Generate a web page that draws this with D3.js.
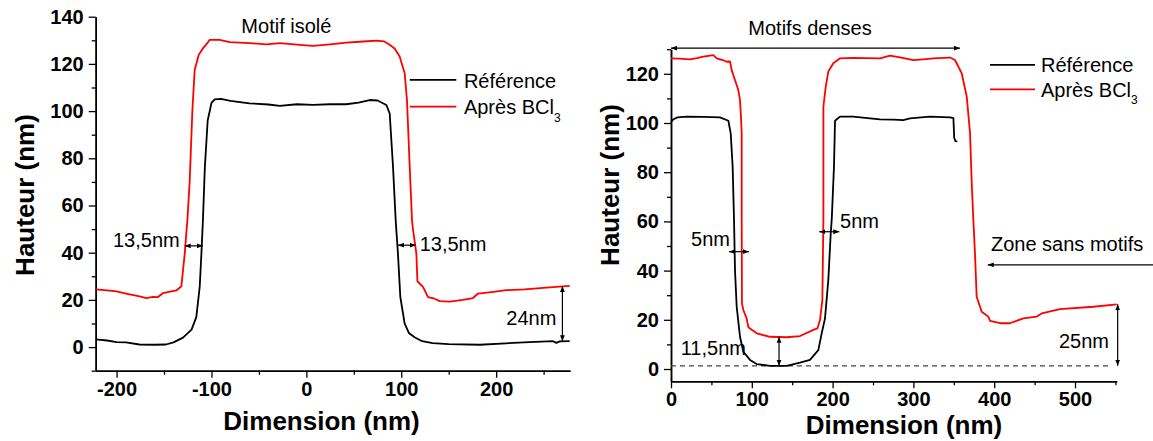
<!DOCTYPE html>
<html><head><meta charset="utf-8">
<script src="https://cdn.jsdelivr.net/npm/d3@7"></script>
<style>
html,body{margin:0;padding:0;background:#fff;}
svg{display:block;font-family:"Liberation Sans",Arial,sans-serif;}
</style>
</head><body>
<svg id="chart" width="1153" height="441"></svg>
<script>
// ---------- DATA ----------
// Left panel: "Motif isolé"
const leftXTicks = [-200, -100, 0, 100, 200];
const leftXMinor = [-150, -50, 50, 150, 250];
const leftYTicks = [0, 20, 40, 60, 80, 100, 120, 140];
const leftYMinor = [-10, 10, 30, 50, 70, 90, 110, 130];
const leftXDomain = [-222, 277.8];
const leftYDomain = [-10, 140];

const leftRefX = [-222,-210,-200,-190,-176,-160,-148,-140,-130,-121,-116,-112.4,-110.6,-109,-107,-104,-100,-96.6,-90,-80,-60,-40,-28,-10,7,25,42,55,66.7,75,84.3,87.8,91.3,94.1,96.5,99,103.6,108,114,122,133,150,182.6,210,235,260,263.4,267,277.5];
const leftRefY = [3.3,2.8,2.1,2.0,1.1,1.0,1.1,2.0,4,7.4,12.7,25.5,39.6,53.8,76,96,103.5,105,105.2,104.3,103.3,102.8,102.2,102.9,102.6,102.9,102.9,103.6,104.7,104.5,102.6,99,76.4,53.8,39.6,21.2,9.9,6,4.2,2.5,1.7,1.3,1.0,1.6,2.1,2.5,1.8,2.4,2.5];

const leftBclX = [-222,-210,-200,-190,-175.7,-168.6,-162,-156.4,-151,-145,-137,-131.7,-128.2,-125.4,-123,-120.1,-117.7,-113.5,-109,-104,-101.9,-91.4,-80.8,-59.7,-42.1,-28,-7,7,25,42.1,60,73.8,82,87.8,93,98.3,103.6,106,108.9,111.3,112.3,115.9,117,122.9,128.2,135.2,140.5,151,165,175.6,180.9,195,210.7,230,252.9,277.5];
const leftBclY = [24.5,24,23.6,22.7,21.5,20.8,21.3,21.2,22.9,23.4,24,25.8,39.6,53.8,70,100.5,117.4,123.8,126.6,129,130.2,130.2,129.2,128.8,128.3,128.8,128.1,127.6,128.3,129,129.5,129.9,129.5,128.1,126.5,123.1,116,104.7,76.4,53.8,50,39.6,27.9,25.5,21.2,20.5,19.5,19.3,20,20.8,22.7,23.3,24.1,24.5,25.2,25.9];

// Right panel: "Motifs denses"
const rightXTicks = [0, 100, 200, 300, 400, 500];
const rightXMinor = [50, 150, 250, 350, 450, 550];
const rightYTicks = [0, 20, 40, 60, 80, 100, 120];
const rightYMinor = [10, 30, 50, 70, 90, 110, 130];
const rightXDomain = [0, 551.6];
const rightYDomain = [-5, 130];

const rightRefX = [0,3,8,19.4,40,60.6,71,73.9,76.3,78,79.2,81.3,85.4,89.5,97.8,106,122.5,143.2,159.7,172,182.3,186.5,190.6,194.7,197.7,198.9,201.7,203,209.2,225.6,246.3,258.7,275,287.5,295.8,320.5,345.3,349.5,350.5,352,354.4];
const rightRefY = [100.5,101.5,102.3,102.6,102.5,102.3,100.9,95.8,82.2,60.6,40.2,25.3,13.1,7,3.7,2,1.3,1.3,2.6,3.7,7.7,14.5,20.6,36.2,55.2,60.6,82.2,100.9,102.6,102.6,101.9,101.5,101.4,101.2,101.9,102.6,102.3,102,94,92.6,92.5];

const rightBclX = [0,10,23.5,32,40,52.4,56.6,65,69,73,75.1,79.2,83.3,85.4,86.5,87.5,87.5,87.8,89.5,93.6,95.7,106,122.5,143.2,159.7,176.2,181.2,184.4,187.3,188.6,188.6,191.5,194.7,200.9,209.2,225.6,258.7,271,285,299.9,312,324.6,345.3,351.5,359.8,366,370.1,372.2,374.2,376.2,378.3,384.5,392.7,394.8,407.2,419.6,436.1,452.6,458.8,481.4,522.7,551.6];
const rightBclY = [126.3,126.2,125.9,126.4,127,127.6,126.3,125.5,124.9,125,121.5,117.5,113.4,109.3,103,95.8,60.6,26.7,24,20.6,17,14.5,13.1,12.9,13.4,15.9,16.5,19.9,28,60.6,106.6,114.8,120.9,124.3,126.3,126.5,126.3,127.4,126.6,125.6,125.9,126.3,126.6,125.6,120.2,110.7,95.8,75.3,60.6,47,29.4,23.3,21.3,19.6,18.6,18.6,20.6,21.3,22.6,24.3,25.3,26.3];

const seriesNames = ["Référence", "Après BCl"];
const seriesColors = ["#000000", "#ff0000"];
const axisTitleX = "Dimension (nm)";
const axisTitleY = "Hauteur (nm)";

// ---------- DRAW ----------
const svg = d3.select("#chart");
const FONT = '"Liberation Sans", Arial, sans-serif';

const defs = svg.append("defs");
function marker(id, orient) {
  defs.append("marker").attr("id", id)
    .attr("viewBox", "0 0 10 10").attr("refX", 10).attr("refY", 5)
    .attr("markerWidth", 6).attr("markerHeight", 6)
    .attr("markerUnits", "userSpaceOnUse")
    .attr("orient", orient)
    .append("path").attr("d", "M0,1 L10,5 L0,9 Z").attr("fill", "#000");
}
marker("arrEnd", "auto");
marker("arrStart", "auto-start-reverse");

function panel(cfg) {
  const x = d3.scaleLinear().domain(cfg.xDomain).range(cfg.xRange);
  const y = d3.scaleLinear().domain(cfg.yDomain).range(cfg.yRange);
  const g = svg.append("g");
  const y0 = cfg.yRange[0], x0 = cfg.xRange[0];

  // minor ticks
  g.append("g").attr("transform", `translate(0,${y0})`)
    .call(d3.axisBottom(x).tickValues(cfg.xMinor).tickSize(4).tickSizeOuter(0).tickFormat(""));
  g.append("g").attr("transform", `translate(${x0},0)`)
    .call(d3.axisLeft(y).tickValues(cfg.yMinor).tickSize(4).tickSizeOuter(0).tickFormat(""));
  // major
  const ax = g.append("g").attr("transform", `translate(0,${y0})`)
    .call(d3.axisBottom(x).tickValues(cfg.xTicks).tickSize(7).tickSizeOuter(0).tickPadding(4).tickFormat(d => String(d)));
  const ay = g.append("g").attr("transform", `translate(${x0},0)`)
    .call(d3.axisLeft(y).tickValues(cfg.yTicks).tickSize(7).tickSizeOuter(0).tickPadding(5).tickFormat(d => String(d)));
  g.selectAll(".domain").attr("stroke", "#000").attr("stroke-width", 1.5);
  g.selectAll(".tick line").attr("stroke", "#000").attr("stroke-width", 1.3);
  [ax, ay].forEach(a => a.selectAll("text")
    .attr("font-family", FONT).attr("font-size", 20).attr("font-weight", "bold").attr("fill", "#000"));

  // axis titles
  g.append("text").attr("x", cfg.xTitlePos[0]).attr("y", cfg.xTitlePos[1])
    .attr("text-anchor", "middle").attr("font-family", FONT).attr("font-size", 26).attr("font-weight", "bold")
    .text(axisTitleX);
  g.append("text").attr("transform", `translate(${cfg.yTitlePos[0]},${cfg.yTitlePos[1]}) rotate(-90)`)
    .attr("text-anchor", "middle").attr("font-family", FONT).attr("font-size", 26).attr("font-weight", "bold")
    .text(axisTitleY);

  // dashed baseline
  if (cfg.dashed) {
    g.append("line")
      .attr("x1", x(cfg.dashed[0])).attr("x2", x(cfg.dashed[1]))
      .attr("y1", y(cfg.dashed[2])).attr("y2", y(cfg.dashed[2]))
      .attr("stroke", "#444").attr("stroke-width", 1.2).attr("stroke-dasharray", "5,4");
  }

  // series
  const line = d3.line().x(d => x(d[0])).y(d => y(d[1]));
  cfg.series.forEach((s, i) => {
    const pts = s.x.map((v, k) => [v, s.y[k]]);
    g.append("path").datum(pts).attr("d", line)
      .attr("fill", "none").attr("stroke", seriesColors[i]).attr("stroke-width", 1.8)
      .attr("stroke-linejoin", "round");
  });

  // legend
  cfg.legend.forEach((L, i) => {
    g.append("line").attr("x1", x(L.x1)).attr("x2", x(L.x2)).attr("y1", y(L.ly)).attr("y2", y(L.ly))
      .attr("stroke", seriesColors[i]).attr("stroke-width", 1.8);
    const t = g.append("text").attr("x", x(L.tx)).attr("y", y(L.ty))
      .attr("font-family", FONT).attr("font-size", 20).attr("fill", "#000");
    t.append("tspan").text(seriesNames[i]);
    if (i === 1) t.append("tspan").attr("font-size", 12).attr("dy", 7.4).text("3");
  });

  // arrows
  cfg.arrows.forEach(a => {
    g.append("line").attr("x1", x(a[0])).attr("y1", y(a[1])).attr("x2", x(a[2])).attr("y2", y(a[3]))
      .attr("stroke", "#000").attr("stroke-width", 1.2)
      .attr("marker-end", "url(#arrEnd)")
      .attr("marker-start", a[4] ? "url(#arrStart)" : null);
  });
  // labels
  cfg.labels.forEach(l => {
    g.append("text").attr("x", x(l[1])).attr("y", y(l[2]))
      .attr("font-family", FONT).attr("font-size", 20).attr("fill", "#000").text(l[0]);
  });
}

panel({
  xDomain: leftXDomain, yDomain: leftYDomain,
  xRange: [95.7, 570], yRange: [370.7, 16.7],
  xTicks: leftXTicks, xMinor: leftXMinor, yTicks: leftYTicks, yMinor: leftYMinor,
  xTitlePos: [321.5, 430], yTitlePos: [34, 195],
  series: [{x: leftRefX, y: leftRefY}, {x: leftBclX, y: leftBclY}],
  legend: [{x1: 109, x2: 158, ly: 113.2, tx: 166, ty: 109.7},
           {x1: 109, x2: 158, ly: 101.9, tx: 166, ty: 98.6}],
  arrows: [[-128.2, 42.9, -109, 42.9, true], [96.5, 43.2, 115.2, 43.2, true], [269.8, 2.5, 269.8, 25.9, true]],
  labels: [["Motif isolé", -68.5, 133.2], ["13,5nm", -203.8, 42.4], ["13,5nm", 119.4, 40.7], ["24nm", 210.7, 9.2]]
});

panel({
  xDomain: rightXDomain, yDomain: rightYDomain,
  xRange: [671, 1116.7], yRange: [381.3, 49.2],
  xTicks: rightXTicks, xMinor: rightXMinor, yTicks: rightYTicks, yMinor: rightYMinor,
  xTitlePos: [904, 434], yTitlePos: [619, 185],
  dashed: [0, 543.3, 1.3],
  series: [{x: rightRefX, y: rightRefY}, {x: rightBclX, y: rightBclY}],
  legend: [{x1: 394.8, x2: 450.5, ly: 123.6, tx: 457.9, ty: 120.9},
           {x1: 394.8, x2: 450.5, ly: 113.7, tx: 457.9, ty: 110.7}],
  arrows: [[0, 130.4, 357.7, 130.4, true], [71.8, 47.7, 96.5, 47.7, true], [183.5, 55.8, 208.3, 55.8, true],
           [133.7, 1.3, 133.7, 13.1, true], [552.8, 1.3, 552.8, 26.3, true], [600, 42.3, 392, 42.3, false]],
  labels: [["Motifs denses", 95.7, 135.8], ["Zone sans motifs", 396, 48.1], ["25nm", 480.2, 8.4],
           ["11,5nm", 12, 5.7], ["5nm", 24.8, 50], ["5nm", 209.2, 57.3]]
});
</script>
</body></html>
